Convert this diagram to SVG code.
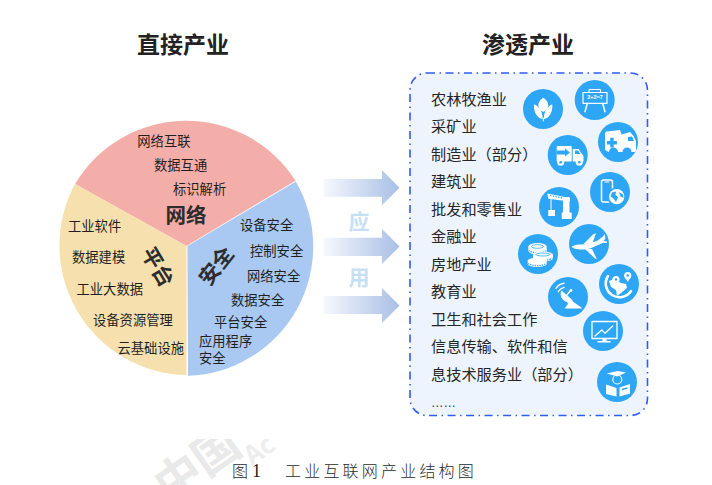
<svg xmlns="http://www.w3.org/2000/svg" width="712" height="485" viewBox="0 0 712 485">
<style>
text{font-family:"Noto Sans CJK SC","Noto Sans",sans-serif;fill:#222}
.t{font-size:13.3px;dominant-baseline:central;fill:#1f1f1f}
.r{font-size:15.2px;dominant-baseline:central;fill:#262626}
.h{font-size:23px;font-weight:700;text-anchor:middle;dominant-baseline:central}
.b{font-size:21px;font-weight:700;text-anchor:middle;dominant-baseline:central;fill:#2d2d2d}
.y{font-size:21px;font-weight:700;text-anchor:middle;dominant-baseline:central;fill:#c6dff3}
.c{fill:#2ea6f6}
.w{fill:#fff}
.k{fill:#2ea6f6}
.s{fill:none;stroke:#fff;stroke-width:1.5;stroke-linejoin:round;stroke-linecap:round}
.n{fill:none;stroke:#2ea6f6;stroke-width:.8}
.cap{font-size:16px;dominant-baseline:central;fill:#2a2a2a;font-weight:300}
</style>
<defs>
<linearGradient id="ag" x1="0" x2="1" y1="0" y2="0"><stop offset="0" stop-color="#f6f8fd"/><stop offset="1" stop-color="#a8bfe6"/></linearGradient>
<clipPath id="wm"><rect x="130" y="439" width="260" height="46"/></clipPath>
</defs>
<g id="watermark" clip-path="url(#wm)">
<g transform="translate(178,477) rotate(-35)">
<text x="-23" y="17" style="font-size:46px;font-weight:700;fill:#e9e9e9">中国</text>
</g>
<text transform="translate(252,466) rotate(-35)" style="font-size:26px;font-weight:700;fill:#ededed">Ac</text>
</g>
<text class="h" x="183" y="43">直接产业</text>
<text class="h" x="528" y="43">渗透产业</text>
<g id="pie-network">
<path d="M186.500 246L75 184A129.500 129.500 0 0 1 295.500 180.700Z" fill="#f4aeaa"/>
<text class="t" x="137.300" y="140.700">网络互联</text>
<text class="t" x="154" y="164.500">数据互通</text>
<text class="t" x="173" y="188">标识解析</text>
<text class="b" x="186" y="214" style="font-size:20.500px">网络</text>
</g>
<g id="pie-platform">
<path d="M186.500 246L75 184A129.500 129.500 0 0 0 186.500 375Z" fill="#f6e0ae"/>
<text class="t" x="68" y="225">工业软件</text>
<text class="t" x="72" y="256">数据建模</text>
<text class="t" x="76.500" y="288">工业大数据</text>
<text class="t" x="93" y="319.600">设备资源管理</text>
<text class="t" x="117.500" y="347">云基础设施</text>
<text class="b" transform="translate(159,266) rotate(59)">平台</text>
</g>
<g id="pie-security">
<path d="M187.500 246L295.800 181.500A129.500 129.500 0 0 1 188 375.800Z" fill="#a9c9f3"/>
<text class="t" x="240" y="224">设备安全</text>
<text class="t" x="250" y="250.500">控制安全</text>
<text class="t" x="247" y="275.500">网络安全</text>
<text class="t" x="231" y="299">数据安全</text>
<text class="t" x="214" y="321.500">平台安全</text>
<text class="t" x="199" y="340"><tspan x="199">应用程序</tspan><tspan x="199" dy="17">安全</tspan></text>
<text class="b" transform="translate(215,265) rotate(-52)">安全</text>
</g>
<g id="connectors">
<path d="M323.500 179H382V170L399.500 187.700L382 205.300V196.700H323.500Z" fill="url(#ag)"/>
<path d="M323.500 237.700H382V229L399.500 246.500L382 264V256H323.500Z" fill="url(#ag)"/>
<path d="M323.500 296H382V288L399.500 305.500L382 323V314H323.500Z" fill="url(#ag)"/>
<text class="y" x="359" y="220">应</text>
<text class="y" x="359" y="275.700">用</text>
</g>
<g id="industries">
<rect x="410" y="73" width="237.500" height="342.500" rx="17" fill="#edf4fe" stroke="#2f5cf2" stroke-width="1.600" stroke-dasharray="8 4.500 1.500 4.500"/>
<text class="r" x="431" y="97.500">农林牧渔业</text>
<text class="r" x="431" y="125">采矿业</text>
<text class="r" x="431" y="152.500">制造业（部分）</text>
<text class="r" x="431" y="180">建筑业</text>
<text class="r" x="431" y="207.500">批发和零售业</text>
<text class="r" x="431" y="235">金融业</text>
<text class="r" x="431" y="262.500">房地产业</text>
<text class="r" x="431" y="290">教育业</text>
<text class="r" x="431" y="317.500">卫生和社会工作</text>
<text class="r" x="431" y="345">信息传输、软件和信</text>
<text class="r" x="431" y="372.500">息技术服务业（部分）</text>
<text x="431" y="407" style="font-size:12.500px;font-family:'Liberation Sans',sans-serif;fill:#333">……</text>
</g>
<g id="icon-crop"><circle class="c" cx="543" cy="109" r="20"/><path class="w" d="M543.300 97.700C546 99.500 548.300 102 548.300 105.500C548.300 108 546 110.500 543.300 112C540.500 110.500 538.300 108 538.300 105.500C538.300 102 540.500 99.500 543.300 97.700Z"/><path class="w" d="M534 104.300C538 106 542.500 109.500 542.700 119C537 118.500 533.500 112 534 104.300ZM552.300 104.300C548.300 106 544 109.500 543.900 119C549.500 118.500 552.800 112 552.300 104.300Z"/><path class="s" d="M543.300 118V121" style="stroke-width:1"/></g>
<g id="icon-board"><circle class="c" cx="594.700" cy="100" r="20"/><rect class="s" x="583" y="92.500" width="24" height="10.800" style="stroke-width:1.200"/><path class="s" d="M589 92V89.500H600.500V92" style="stroke-width:1"/><path class="s" d="M587.300 103.500L585 111.700M602.700 103.500L605 111.700"/><text x="595" y="97.300" style="font-size:5.500px;font-weight:700;fill:#fff;text-anchor:middle;dominant-baseline:central;font-family:'Liberation Sans',sans-serif">2+2=7</text></g>
<g id="icon-ambulance"><circle class="c" cx="618" cy="142" r="20"/><path class="w" d="M605 134C605 132 606 131.500 607 131.500L620 130L621.700 134.500L630 132L633.500 136L636 141V150C636 151.500 635 152 634 152H631.500A4.500 4.500 0 0 0 622.500 152H618A4.500 4.500 0 0 0 609 152L606.500 151C605.500 150.500 605 150 605 149Z"/><path class="k" d="M610 138.500h3.500v3.200h3.200v3.500h-3.200v3.200H610v-3.200h-3.200v-3.500H610Z" transform="translate(.200 -.800)"/><path class="k" d="M628 137L632 136.500L634 141H628Z"/></g>
<g id="icon-truck"><circle class="c" cx="567.700" cy="155" r="20"/><rect class="w" x="556.700" y="146" width="15" height="15.500" rx=".8"/><path class="k" d="M556.700 150.500H565V148.500L570 152.500L565 156.500V154.500H556.700Z"/><path class="w" d="M572.700 149H578.500L582 154L583.500 156V161.500H572.700Z"/><path class="k" d="M575 150.500H578L580.500 154H575Z"/><circle class="w" cx="560.700" cy="162.300" r="3.500"/><circle class="k" cx="560.700" cy="162.300" r="1.300"/><circle class="w" cx="579.300" cy="162.300" r="3.500"/><circle class="k" cx="579.300" cy="162.300" r="1.300"/></g>
<g id="icon-phone"><circle class="c" cx="610" cy="192" r="20"/><rect class="s" x="601.500" y="180" width="11" height="22" rx="2"/><path class="s" d="M605 182H609" style="stroke-width:1"/><circle class="c" cx="616.700" cy="196.700" r="9.500"/><circle class="w" cx="616.700" cy="196.700" r="7.600"/><path class="k" d="M612 192.500L616 191.500L615.500 195L618 197L616 202L613.500 198.500L610.500 196.500ZM619 192L623 194.500L623.500 198L620.500 196.500Z"/></g>
<g id="icon-crane"><circle class="c" cx="559" cy="207" r="20"/><path class="w" d="M547.300 193.500L570 198V201.500L548.300 198.800Z"/><path d="M550 195.500L567 198.800" stroke="#2ea6f6" stroke-width="1.200" stroke-dasharray="1.500 1.200" fill="none"/><path class="w" d="M563 197H569.500V213H563Z"/><rect class="w" x="561.700" y="212.500" width="10" height="6.500"/><path class="s" d="M551 199.500V209.500" style="stroke-width:1"/><rect class="w" x="548.300" y="210" width="6.700" height="6"/></g>
<g id="icon-coins"><circle class="c" cx="538" cy="254" r="20"/>
<path class="w" d="M528.300 246.500A9.200 3.500 0 0 1 546.700 246.500V251A9.200 3.500 0 0 1 528.300 251Z"/><ellipse class="n" cx="537.500" cy="246.500" rx="6" ry="1.800"/><path d="M528.800 250.500A9 3 0 0 0 546 250.500" fill="none" stroke="#2ea6f6" stroke-width="1.300" stroke-dasharray="1.300 1"/>
<path class="w" d="M533 254.500A10 3 0 0 1 553 254.500V258.500A10 3 0 0 1 533 258.500Z"/><path d="M533.500 258A10 3 0 0 0 552.500 258" fill="none" stroke="#2ea6f6" stroke-width="1.300" stroke-dasharray="1.300 1"/><ellipse class="n" cx="543" cy="254.500" rx="7" ry="1.500"/>
<path class="w" d="M527.700 260.500A9.500 3 0 0 1 546.700 260.500V264A9.500 3 0 0 1 527.700 264Z"/><path d="M528.200 263.500A9.500 3 0 0 0 546.200 263.500" fill="none" stroke="#2ea6f6" stroke-width="1.300" stroke-dasharray="1.300 1"/></g>
<g id="icon-plane"><circle class="c" cx="589" cy="244" r="20"/><path class="w" d="M571.700 246.700C574 244.500 580 244.500 584 244.500L597 241L603 236.500L604.500 234L605.500 238.500L601.500 243.500L590 248.500C584 250 574 250 571.700 246.700Z"/><path class="w" d="M583 244.500L593 234.500L596 233.300L592.500 243Z"/><path class="w" d="M585 249L592 249L597 259.500L594.500 258Z"/><path class="w" d="M600 240L607 241.500L607 243L600 243Z"/></g>
<g id="icon-globe"><circle class="c" cx="619" cy="284" r="20"/><path class="s" d="M608 276A13 13 0 1 0 631 291" style="stroke-width:2.600"/><path class="w" d="M609 281L614 279L621 283L626 284L627 288L621 293L617 296L616 290L611 287Z"/><circle class="w" cx="616" cy="279.500" r="3.600"/><circle class="k" cx="616" cy="279.500" r="1.200"/><path class="w" d="M613 281L616 286L619 281Z"/><circle class="w" cx="627.700" cy="275.500" r="3.600"/><circle class="k" cx="627.700" cy="275.500" r="1.200"/><path class="w" d="M624.700 277L627.700 282L630.700 277Z"/></g>
<g id="icon-dish"><circle class="c" cx="568" cy="297" r="20"/><path class="w" d="M561.500 290.500L573 300.500C570 303 565.500 302.500 562.800 299.500C560.500 297 560 293 561.500 290.500Z"/><path class="w" d="M567 301.500L571.500 300.500L575 303L581.700 307.700V308.500H564.500L568 304Z"/><path class="s" d="M567 295L570 291" style="stroke-width:1.300"/><circle class="w" cx="571" cy="290.500" r="1.400"/><path class="s" d="M558.300 291.700C559.500 289.500 561.500 288 564 287.300M556 288.300C558 285.500 561 283.800 564 283.300" style="stroke-width:1.400"/></g>
<g id="icon-monitor"><circle class="c" cx="603" cy="331" r="20"/><rect class="s" x="592" y="321.500" width="25" height="17" style="stroke-width:1.300"/><path class="s" d="M595 336L601.700 330L605 333.300L612.700 326" style="stroke-width:1.200"/><path class="s" d="M598 341.700H610"/><path class="w" d="M602.500 338.500h4v3h-4Z"/></g>
<g id="icon-book"><circle class="c" cx="617" cy="382" r="20"/><path class="w" d="M606.700 373.500L617.300 371L626 372.500L617.300 376.500Z"/><circle class="s" cx="617.300" cy="379.500" r="4.500" style="stroke-width:1.100"/><path class="w" d="M606 384.500L616.500 388V396.500L606 394ZM619.500 387.500L630 384V393.500L619.500 396.500Z"/><path class="n" d="M622 389.500L627.500 388" style="stroke-width:1.300"/></g>
<g id="caption">
<text class="cap" x="232" y="469.500">图</text>
<text x="252" y="471" style="font-size:18px;font-family:'Liberation Serif',serif;dominant-baseline:central;fill:#222">1</text>
<text class="cap" x="285" y="469.500" style="letter-spacing:3.200px">工业互联网产业结构图</text>
</g>
</svg>
